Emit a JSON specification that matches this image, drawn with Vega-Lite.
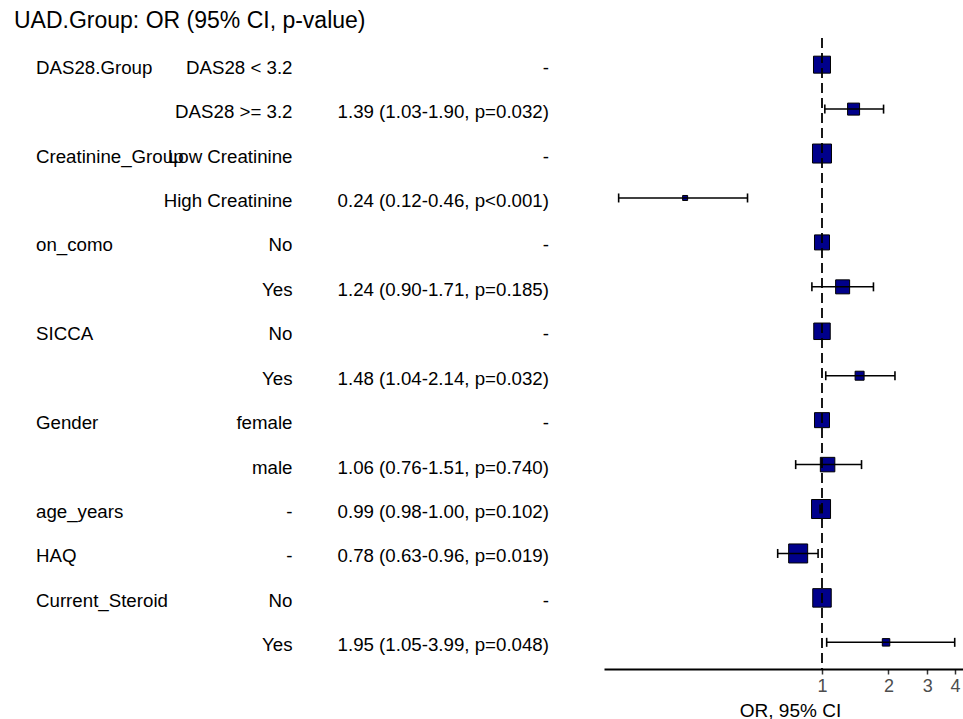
{
  "$schema": "https://vega.github.io/schema/vega-lite/v6.json",
  "padding": {"left": 0, "top": 10, "right": 0, "bottom": 0},
  "background": "white",
  "title": {"text": "UAD.Group: OR (95% CI, p-value)", "anchor": "start", "fontSize": 23, "fontWeight": "normal", "font": "Liberation Sans", "color": "black", "dx": 14, "offset": 4},
  "datasets": {
    "rows": [
      {"row": 1, "label": "DAS28.Group", "levels": "DAS28 < 3.2", "or_text": "-", "or": 1, "lcl": null, "ucl": null, "n": 289},
      {"row": 2, "label": "", "levels": "DAS28 >= 3.2", "or_text": "1.39 (1.03-1.90, p=0.032)", "or": 1.39, "lcl": 1.03, "ucl": 1.90, "n": 144},
      {"row": 3, "label": "Creatinine_Group", "levels": "Low Creatinine", "or_text": "-", "or": 1, "lcl": null, "ucl": null, "n": 361},
      {"row": 4, "label": "", "levels": "High Creatinine", "or_text": "0.24 (0.12-0.46, p<0.001)", "or": 0.24, "lcl": 0.12, "ucl": 0.46, "n": 25},
      {"row": 5, "label": "on_como", "levels": "No", "or_text": "-", "or": 1, "lcl": null, "ucl": null, "n": 225},
      {"row": 6, "label": "", "levels": "Yes", "or_text": "1.24 (0.90-1.71, p=0.185)", "or": 1.24, "lcl": 0.90, "ucl": 1.71, "n": 196},
      {"row": 7, "label": "SICCA", "levels": "No", "or_text": "-", "or": 1, "lcl": null, "ucl": null, "n": 272},
      {"row": 8, "label": "", "levels": "Yes", "or_text": "1.48 (1.04-2.14, p=0.032)", "or": 1.48, "lcl": 1.04, "ucl": 2.14, "n": 81},
      {"row": 9, "label": "Gender", "levels": "female", "or_text": "-", "or": 1, "lcl": null, "ucl": null, "n": 225},
      {"row": 10, "label": "", "levels": "male", "or_text": "1.06 (0.76-1.51, p=0.740)", "or": 1.06, "lcl": 0.76, "ucl": 1.51, "n": 210},
      {"row": 11, "label": "age_years", "levels": "-", "or_text": "0.99 (0.98-1.00, p=0.102)", "or": 0.99, "lcl": 0.98, "ucl": 1.00, "n": 361},
      {"row": 12, "label": "HAQ", "levels": "-", "or_text": "0.78 (0.63-0.96, p=0.019)", "or": 0.78, "lcl": 0.63, "ucl": 0.96, "n": 361},
      {"row": 13, "label": "Current_Steroid", "levels": "No", "or_text": "-", "or": 1, "lcl": null, "ucl": null, "n": 342},
      {"row": 14, "label": "", "levels": "Yes", "or_text": "1.95 (1.05-3.99, p=0.048)", "or": 1.95, "lcl": 1.05, "ucl": 3.99, "n": 56}
    ]
  },
  "spacing": 19,
  "resolve": {"scale": {"x": "independent", "y": "independent"}},
  "hconcat": [
    {
      "width": 585,
      "height": 631,
      "data": {"name": "rows"},
      "encoding": {
        "y": {"field": "row", "type": "quantitative", "scale": {"domain": [0.4, 14.6], "reverse": true, "zero": false, "nice": false}, "axis": null}
      },
      "layer": [
        {
          "mark": {"type": "text", "align": "left", "baseline": "alphabetic", "dy": 9, "fontSize": 18.7, "font": "Liberation Sans", "color": "black"},
          "encoding": {
            "x": {"datum": "label", "type": "nominal", "scale": {"type": "point", "domain": ["label", "levels", "or"], "padding": 0.1404}, "axis": null},
            "text": {"field": "label"}
          }
        },
        {
          "mark": {"type": "text", "align": "right", "baseline": "alphabetic", "dy": 9, "fontSize": 18.7, "font": "Liberation Sans", "color": "black"},
          "encoding": {
            "x": {"datum": "levels", "type": "nominal", "scale": {"type": "point", "domain": ["label", "levels", "or"], "padding": 0.1404}, "axis": null},
            "text": {"field": "levels"}
          }
        },
        {
          "mark": {"type": "text", "align": "right", "baseline": "alphabetic", "dy": 9, "fontSize": 18.7, "font": "Liberation Sans", "color": "black"},
          "encoding": {
            "x": {"datum": "or", "type": "nominal", "scale": {"type": "point", "domain": ["label", "levels", "or"], "padding": 0.1404}, "axis": null},
            "text": {"field": "or_text"}
          }
        }
      ]
    },
    {
      "width": 359,
      "height": 631,
      "layer": [
        {
          "data": {"name": "rows"},
          "mark": {"type": "point", "shape": "square", "filled": true, "fill": "#00008B", "stroke": "black", "strokeWidth": 1, "opacity": 1},
          "encoding": {
            "y": {"field": "row", "type": "quantitative", "scale": {"domain": [0.4, 14.6], "reverse": true, "zero": false, "nice": false}, "axis": null},
            "x": {"field": "or", "type": "quantitative", "scale": {"type": "log", "domain": [0.103, 4.35], "nice": false},
              "axis": {"values": [1, 2, 3, 4], "format": "~g", "title": "OR, 95% CI", "grid": false, "domainColor": "black", "domainWidth": 1.8, "tickColor": "#333333", "tickWidth": 1.5, "tickSize": 5, "labelFontSize": 18, "labelColor": "#4d4d4d", "labelFont": "Liberation Sans", "labelPadding": 3, "titleFont": "Liberation Sans", "titleFontSize": 19, "titleFontWeight": "normal", "titleColor": "black", "titlePadding": 6, "titleX": 186}},
            "size": {"field": "n", "type": "quantitative", "scale": {"type": "linear", "domain": [0, 400], "range": [0, 400]}, "legend": null}
          }
        },
        {
          "data": {"name": "rows"},
          "mark": {"type": "rule", "color": "black", "strokeWidth": 1.5},
          "encoding": {
            "y": {"field": "row", "type": "quantitative"},
            "x": {"field": "lcl", "type": "quantitative"},
            "x2": {"field": "ucl"}
          }
        },
        {
          "data": {"name": "rows"},
          "mark": {"type": "tick", "orient": "vertical", "color": "black", "size": 9, "thickness": 1.6, "opacity": 1},
          "encoding": {
            "y": {"field": "row", "type": "quantitative"},
            "x": {"field": "lcl", "type": "quantitative"}
          }
        },
        {
          "data": {"name": "rows"},
          "mark": {"type": "tick", "orient": "vertical", "color": "black", "size": 9, "thickness": 1.6, "opacity": 1},
          "encoding": {
            "y": {"field": "row", "type": "quantitative"},
            "x": {"field": "ucl", "type": "quantitative"}
          }
        },
        {
          "data": {"values": [{"ref": 1}]},
          "mark": {"type": "rule", "color": "black", "strokeWidth": 1.8, "strokeDash": [10, 5]},
          "encoding": {"x": {"field": "ref", "type": "quantitative"}}
        }
      ]
    }
  ],
  "config": {"view": {"stroke": null}}
}
